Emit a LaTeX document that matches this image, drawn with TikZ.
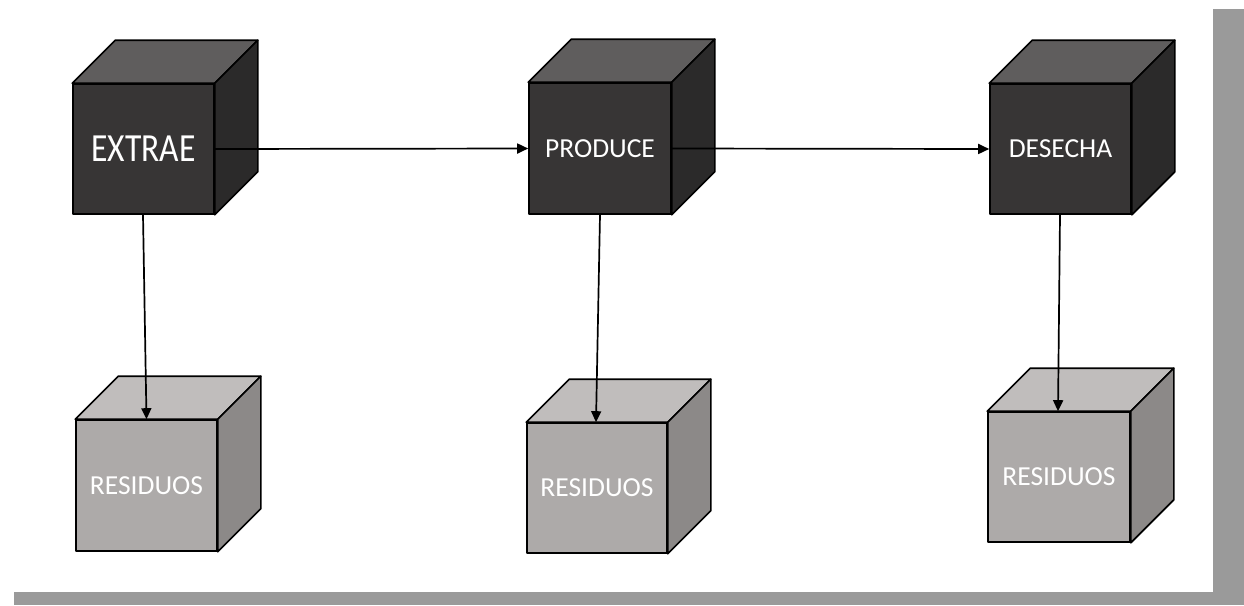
\documentclass[tikz,border=0pt]{standalone}
\usepackage{fontspec}
\setmainfont{Carlito}
\usetikzlibrary{arrows.meta,calc}
\definecolor{dkfront}{HTML}{373535}
\definecolor{dktop}{HTML}{5F5D5D}
\definecolor{dkside}{HTML}{2B2A2A}
\definecolor{ltfront}{HTML}{ADAAA9}
\definecolor{lttop}{HTML}{C0BDBC}
\definecolor{ltside}{HTML}{8C8988}
\definecolor{shadowgray}{HTML}{9A9A9A}
\tikzset{
  face/.style={draw=black, line width=1.6pt, line join=round},
  darkbox/.style={face, fill=dkfront, text=white, inner sep=0pt, font=\fontsize{27.5}{30}\selectfont},
  lightbox/.style={face, fill=ltfront, text=white, inner sep=0pt, font=\fontsize{27.5}{30}\selectfont},
  conn/.style={line width=1.7pt, -{Triangle[length=11pt,width=10pt]}},
}
\newcommand\cubefaces[3]{%
  \filldraw[face, fill=#2] (#1.north west) -- ++(43,-43) -- ($(#1.north east)+(43,-43)$) -- (#1.north east) -- cycle;
  \filldraw[face, fill=#3] (#1.north east) -- ++(43,-43) -- ($(#1.south east)+(43,-43)$) -- (#1.south east) -- cycle;
}
\begin{document}
\begin{tikzpicture}[x=1pt,y=-1pt]
\useasboundingbox (0,0) rectangle (1244,605);
% card with shadow
\fill[white] (0,0) rectangle (1244,605);
\fill[shadowgray] (1213,9) rectangle (1244,605);
\fill[shadowgray] (14,592) rectangle (1244,605);
\fill[white] (10,9) rectangle (1212,591);
% top row
\node[darkbox, minimum width=141pt, minimum height=130pt] (e) at (143.5,149) {\scalebox{1.22}[1.45]{EXTRAE}};
\node[darkbox, minimum width=142pt, minimum height=131pt] (p) at (600,148.5) {PRODUCE};
\node[darkbox, minimum width=141pt, minimum height=130pt] (d) at (1060.5,149) {DESECHA};
\cubefaces{e}{dktop}{dkside}
\cubefaces{p}{dktop}{dkside}
\cubefaces{d}{dktop}{dkside}
% bottom row
\node[lightbox, minimum width=141pt, minimum height=131pt] (r1) at (146.5,485.5) {RESIDUOS};
\node[lightbox, minimum width=140pt, minimum height=130pt] (r2) at (597,488) {RESIDUOS};
\node[lightbox, minimum width=142pt, minimum height=130pt] (r3) at (1059,477) {RESIDUOS};
\cubefaces{r1}{lttop}{ltside}
\cubefaces{r2}{lttop}{ltside}
\cubefaces{r3}{lttop}{ltside}
% connectors
\draw[conn] ([xshift=-0.5pt]e.south) -- ([xshift=0pt]r1.north);
\draw[conn] (p.south) -- ([xshift=-1pt]r2.north);
\draw[conn] ([xshift=-0.5pt]d.south) -- ([xshift=-1pt]r3.north);
\draw[conn] (e.east) -- (p.west);
\draw[conn] (p.east) -- (d.west);
\end{tikzpicture}
\end{document}
